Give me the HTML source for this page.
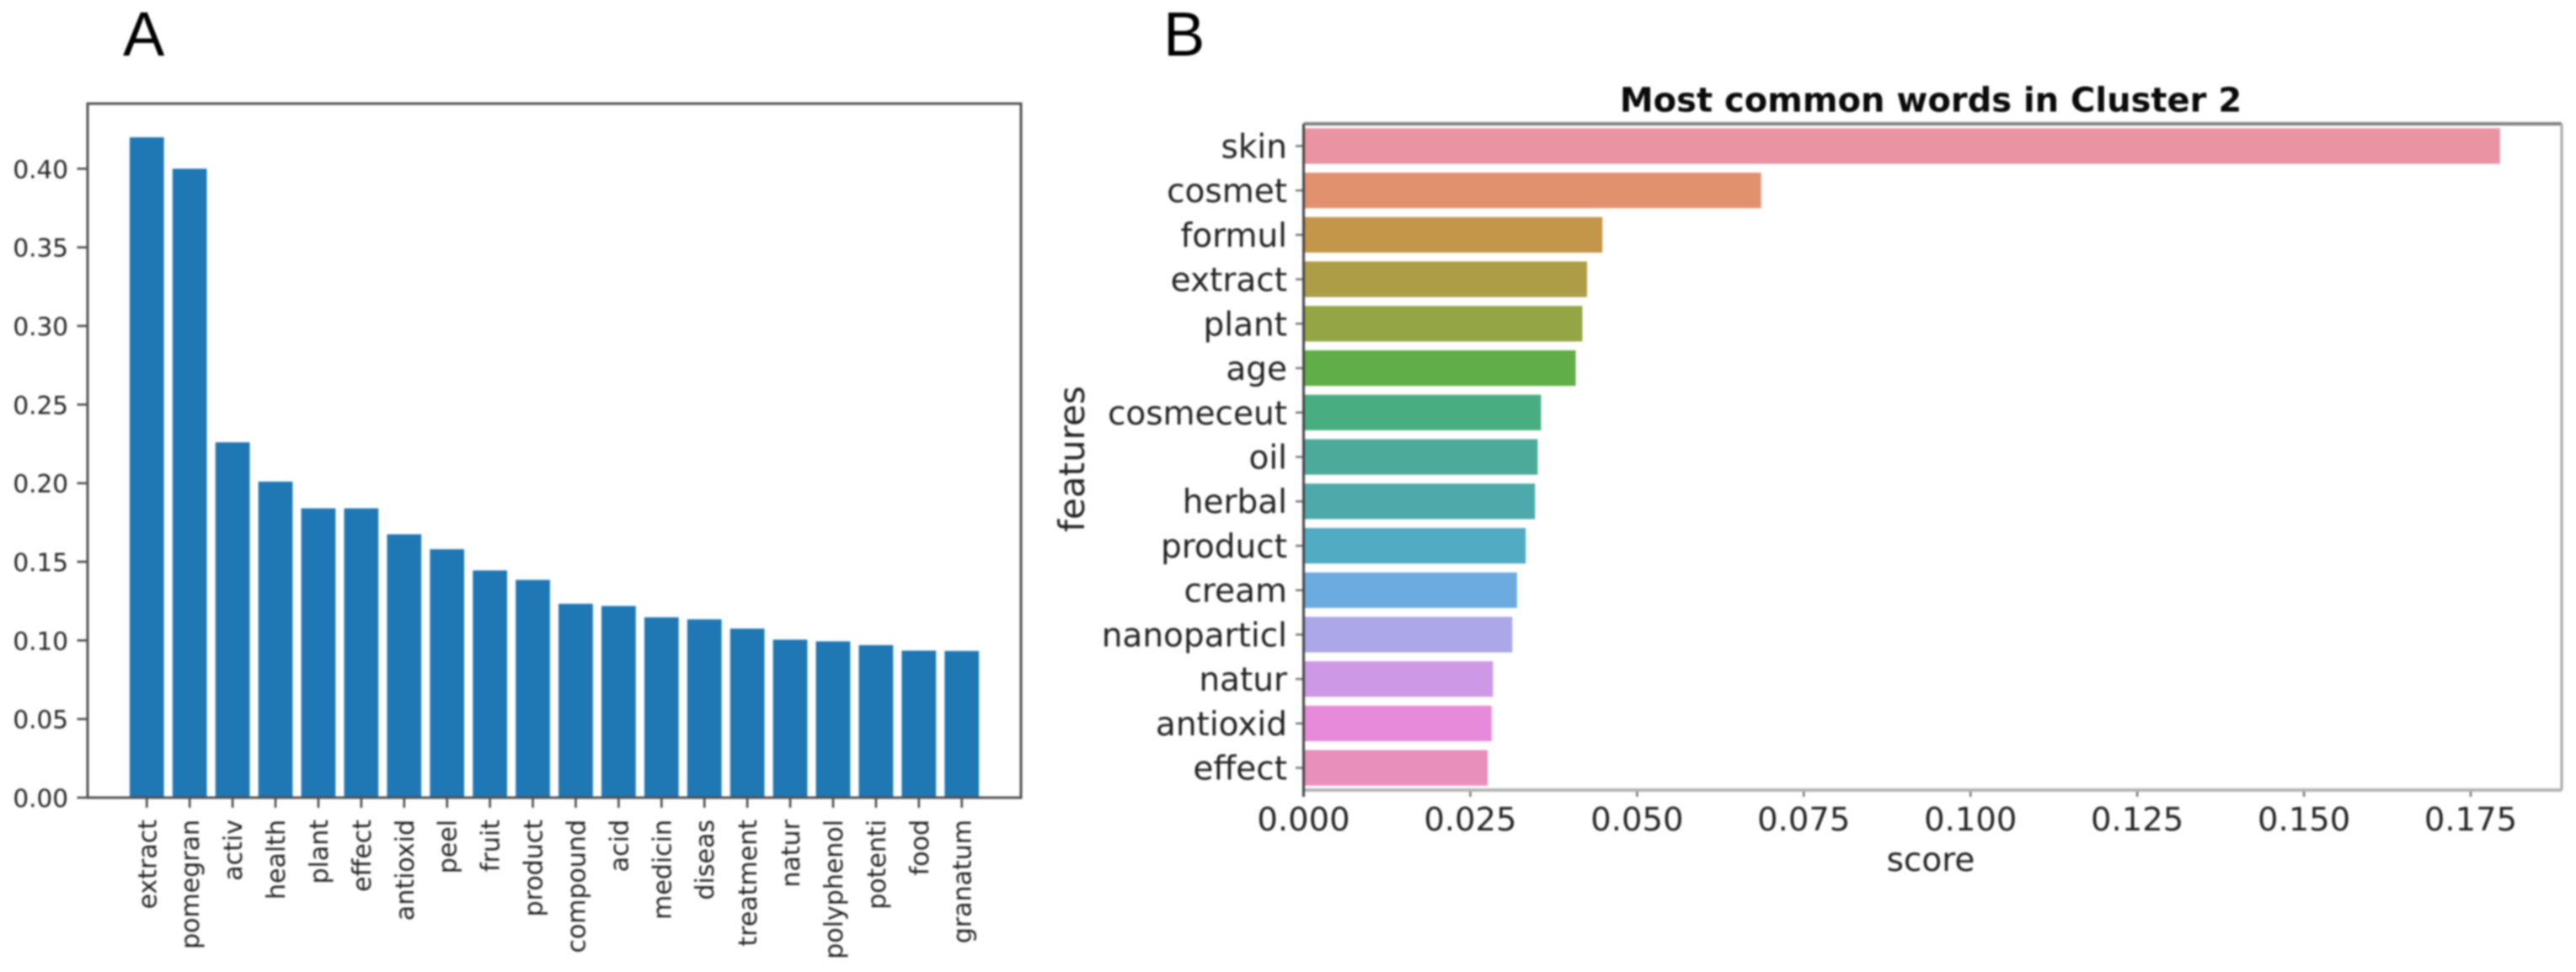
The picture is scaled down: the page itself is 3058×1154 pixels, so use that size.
<!DOCTYPE html>
<html lang="en">
<head>
<meta charset="utf-8">
<title>Most common words charts</title>
<style>
html,body{margin:0;padding:0;background:#fff;}
body{width:3058px;height:1154px;overflow:hidden;}
svg{display:block;filter:blur(1.1px);}
text{font-family:"DejaVu Sans","Liberation Sans",sans-serif;}
.panel{font-family:"Liberation Sans",sans-serif;font-size:74px;fill:#000;}
</style>
</head>
<body>
<svg id="figure" xmlns="http://www.w3.org/2000/svg" width="3058" height="1154" viewBox="0 0 3058 1154">
  <rect x="0" y="0" width="3058" height="1154" fill="#fff"/>
  <text class="panel" x="146" y="66">A</text>
  <text class="panel" x="1381" y="66">B</text>
  <g id="chart-a"></g>
  <g id="chart-b"></g>
</svg>
<script>
const categoriesA = ["extract","pomegran","activ","health","plant","effect","antioxid","peel","fruit","product","compound","acid","medicin","diseas","treatment","natur","polyphenol","potenti","food","granatum"];
const valuesA = [0.420,0.400,0.226,0.201,0.184,0.184,0.1675,0.158,0.1445,0.1385,0.1233,0.1219,0.1147,0.1134,0.1075,0.1005,0.0994,0.0970,0.0935,0.0933];
const ticksA = [0,0.05,0.10,0.15,0.20,0.25,0.30,0.35,0.40];
const tickLabelsA = ["0.00","0.05","0.10","0.15","0.20","0.25","0.30","0.35","0.40"];

const categoriesB = ["skin","cosmet","formul","extract","plant","age","cosmeceut","oil","herbal","product","cream","nanoparticl","natur","antioxid","effect"];
const valuesB = [0.1794,0.0686,0.0448,0.0425,0.0418,0.0408,0.0356,0.0351,0.0347,0.0333,0.0320,0.0313,0.0284,0.0282,0.0276];
const colorsB = ["#ea93a3","#e2916f","#c49649","#ac9d46","#94a545","#60ae47","#49ad82","#4caa9a","#4eaaaa","#51abc3","#6cabe0","#aca7e8","#cd99e6","#e78ad9","#e88fbc"];
const ticksB = [0,0.025,0.05,0.075,0.1,0.125,0.15,0.175];
const tickLabelsB = ["0.000","0.025","0.050","0.075","0.100","0.125","0.150","0.175"];
const titleB = "Most common words in Cluster 2";

const NS = "http://www.w3.org/2000/svg";
function mk(parent, tag, attrs, txt) {
  const el = document.createElementNS(NS, tag);
  for (const k in attrs) el.setAttribute(k, attrs[k]);
  if (txt !== undefined) el.textContent = txt;
  parent.appendChild(el);
  return el;
}

/* ---------- Chart A ---------- */
(function () {
  const g = document.getElementById("chart-a");
  const L = 104, R = 1212, T = 123, B = 947;
  const yMax = Math.max(...valuesA) * 1.051;
  const xMin = -1.38, xMax = categoriesA.length - 1 + 1.38;
  const xA = v => L + (v - xMin) / (xMax - xMin) * (R - L);
  const yA = v => B - v / yMax * (B - T);
  const band = xA(1) - xA(0);

  categoriesA.forEach((c, i) => {
    const r = mk(g, "rect", {x: xA(i) - band * 0.4, y: yA(valuesA[i]), width: band * 0.8, height: B - yA(valuesA[i]), fill: "#1f77b4"});
    
    
    const t = mk(g, "line", {x1: xA(i), x2: xA(i), y1: B, y2: 959, stroke: "#444", "stroke-width": 2.5});
    
    
    const px = xA(i) + 11, py = 973;
    const lb = mk(g, "text", {x: px, y: py, "font-size": 30, fill: "#222", "text-anchor": "end", transform: "rotate(-90 " + px + " " + py + ")"}, c);
    
    
  });
  ticksA.forEach((v, i) => {
    const t = mk(g, "line", {x1: 91.5, x2: L, y1: yA(v), y2: yA(v), stroke: "#444", "stroke-width": 2.5});
    
    
    const lb = mk(g, "text", {x: 81, y: yA(v) + 11, "font-size": 29.5, fill: "#222", "text-anchor": "end"}, tickLabelsA[i]);
    
    
  });
  const frame = mk(g, "rect", {x: L, y: T, width: R - L, height: B - T, fill: "none", stroke: "#505050", "stroke-width": 3});
  
  
})();

/* ---------- Chart B ---------- */
(function () {
  const g = document.getElementById("chart-b");
  const L = 1547.5, R = 3041, T = 147, B = 938;
  const xBMax = Math.max(...valuesB) * 1.0515;
  const xB = v => L + v / xBMax * (R - L);
  const bandH = (B - T) / categoriesB.length;
  const yB = i => T + (i + 0.5) * bandH;

  categoriesB.forEach((c, i) => {
    const r = mk(g, "rect", {x: L, y: yB(i) - bandH * 0.4, width: xB(valuesB[i]) - L, height: bandH * 0.8, fill: colorsB[i]});
    
    
    const t = mk(g, "line", {x1: 1538, x2: L, y1: yB(i), y2: yB(i), stroke: "#777", "stroke-width": 2.5});
    
    
    const lb = mk(g, "text", {x: 1528, y: yB(i) + 14, "font-size": 39, fill: "#222", "text-anchor": "end"}, c);
    
    
  });
  ticksB.forEach((v, i) => {
    const t = mk(g, "line", {x1: xB(v), x2: xB(v), y1: B, y2: B + 8, stroke: "#777", "stroke-width": 2.5});
    
    
    const lb = mk(g, "text", {x: xB(v), y: 986, "font-size": 38.5, fill: "#222", "text-anchor": "middle"}, tickLabelsB[i]);
    
    
  });
  const sTop = mk(g, "line", {x1: L, x2: R, y1: T, y2: T, stroke: "#808080", "stroke-width": 4});
  
  
  const sRight = mk(g, "line", {x1: R, x2: R, y1: T, y2: B, stroke: "#a8a8a8", "stroke-width": 3});
  
  
  const sBottom = mk(g, "line", {x1: L, x2: R, y1: B, y2: B, stroke: "#b4b4b4", "stroke-width": 4});
  
  
  const sLeft = mk(g, "line", {x1: L, x2: L, y1: T, y2: B + 8, stroke: "#444", "stroke-width": 3});
  
  

  const title = mk(g, "text", {x: 2292, y: 132.5, "font-size": 40, "font-weight": "bold", fill: "#0a0a0a", "text-anchor": "middle"}, titleB);
  
  
  const xt = mk(g, "text", {x: 2292, y: 1034, "font-size": 39, fill: "#222", "text-anchor": "middle"}, "score");
  
  
  const yt = mk(g, "text", {x: 1287, y: 545, "font-size": 42, fill: "#222", "text-anchor": "middle", transform: "rotate(-90 1287 545)"}, "features");
  
  
})();
</script>
</body>
</html>
